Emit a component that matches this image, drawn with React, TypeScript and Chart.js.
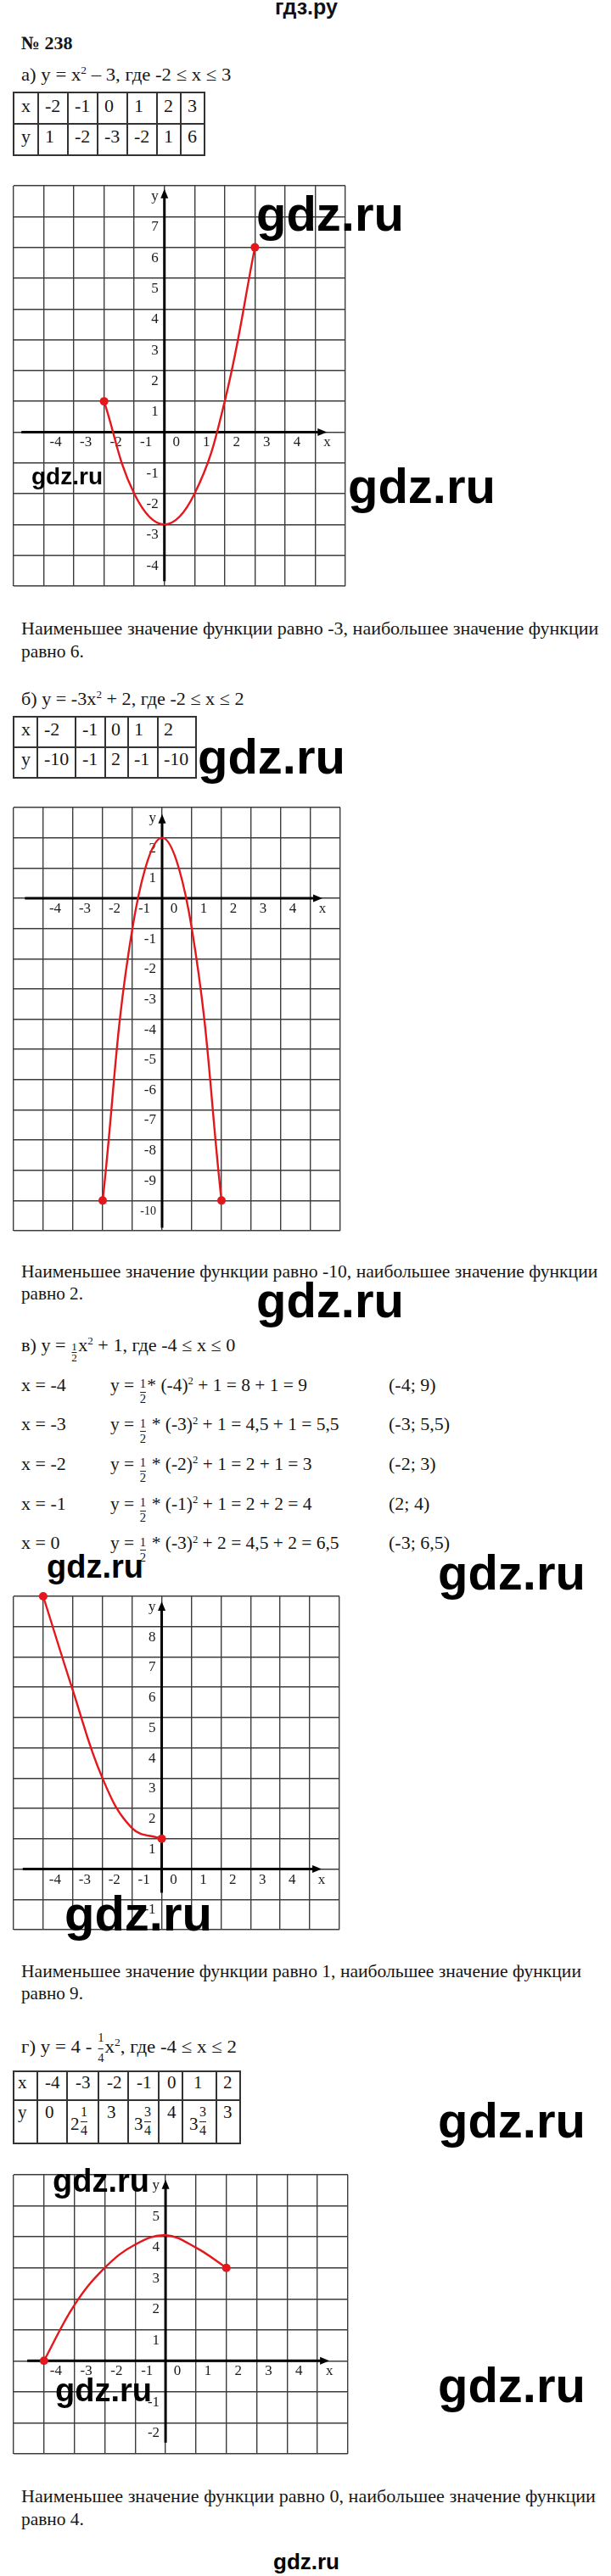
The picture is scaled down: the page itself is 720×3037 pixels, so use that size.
import React, { useEffect, useLayoutEffect, useRef } from 'react';
import { Chart, registerables } from 'chart.js';
Chart.register(...registerables);

// ---------------- data ----------------
const tableAX = ['-2', '-1', '0', '1', '2', '3'];
const tableAY = ['1', '-2', '-3', '-2', '1', '6'];
const curveAX = [-2, -1, 0, 1, 2, 3];
const curveAY = [1, -2, -3, -2, 1, 6];

const tableBX = ['-2', '-1', '0', '1', '2'];
const tableBY = ['-10', '-1', '2', '-1', '-10'];
const curveBX = [-2, -1, 0, 1, 2];
const curveBY = [-10, -1, 2, -1, -10];

const curveVX = [-4, -3, -2, -1, 0];
const curveVY = [9, 5.9, 3, 1.35, 1];

const tableGX = ['-4', '-3', '-2', '-1', '0', '1', '2'];
const tableGYInt = ['0', '2', '3', '3', '4', '3', '3'];
const tableGYNum = ['', '1', '', '3', '', '3', ''];
const tableGYDen = ['', '4', '', '4', '', '4', ''];
const curveGX = [-4, -3, -2, -1, 0, 1, 2];
const curveGY = [0, 1.8, 3, 3.75, 4.05, 3.65, 3];

const xTickVals = [-4, -3, -2, -1, 0, 1, 2, 3, 4, 5];
const xTickText = ['-4', '-3', '-2', '-1', '0', '1', '2', '3', '4', 'x'];

const yTickValsA = [8, 7, 6, 5, 4, 3, 2, 1, -1, -2, -3, -4];
const yTickTextA = ['y', '7', '6', '5', '4', '3', '2', '1', '-1', '-2', '-3', '-4'];
const yTickValsB = [3, 2, 1, -1, -2, -3, -4, -5, -6, -7, -8, -9, -10];
const yTickTextB = ['y', '2', '1', '-1', '-2', '-3', '-4', '-5', '-6', '-7', '-8', '-9', '-10'];
const yTickValsV = [9, 8, 7, 6, 5, 4, 3, 2, 1, -1];
const yTickTextV = ['y', '8', '7', '6', '5', '4', '3', '2', '1', '-1'];
const yTickValsG = [6, 5, 4, 3, 2, 1, -1, -2];
const yTickTextG = ['y', '5', '4', '3', '2', '1', '-1', '-2'];

const calcX = ['x = -4', 'x = -3', 'x = -2', 'x = -1', 'x = 0'];
const calcSep = ['*', ' *', ' *', ' *', ' *'];
const calcBase = [' (-4)', ' (-3)', ' (-2)', ' (-1)', ' (-3)'];
const calcRest = [' + 1 = 8 + 1 = 9', ' + 1 = 4,5 + 1 = 5,5', ' + 1 = 2 + 1 = 3', ' + 1 = 2 + 2 = 4', ' + 2 = 4,5 + 2 = 6,5'];
const calcPoint = ['(-4; 9)', '(-3; 5,5)', '(-2; 3)', '(2; 4)', '(-3; 6,5)'];

// ---------------- styles ----------------
const RED = '#e3171c';
const GRID = '#3d3d3d';
const SERIF = '"Liberation Serif", "Times New Roman", serif';
const SANS = '"Liberation Sans", Arial, sans-serif';
const INK = '#161616';

type GraphCfg = {
  left: number; top: number; width: number; height: number;
  xMin: number; xMax: number; yMin: number; yMax: number;
  xAxis: [number, number]; yAxis: [number, number];
  yVals: number[]; yText: string[];
  xs: number[]; ys: number[];
};

function range(a: number, b: number) {
  const r: number[] = [];
  for (let v = a; v <= b; v++) r.push(v);
  return r;
}

function decoPlugin(cfg: GraphCfg) {
  return {
    id: 'deco',
    beforeDatasetsDraw(chart: any) {
      const ctx = chart.ctx as CanvasRenderingContext2D;
      const xs = chart.scales.x;
      const ys = chart.scales.y;
      const ox = xs.getPixelForValue(0);
      const oy = ys.getPixelForValue(0);
      ctx.save();
      ctx.strokeStyle = '#000';
      ctx.fillStyle = '#000';
      ctx.lineWidth = 3;
      const x0 = xs.getPixelForValue(cfg.xAxis[0]);
      const x1 = xs.getPixelForValue(cfg.xAxis[1]);
      ctx.beginPath();
      ctx.moveTo(x0, oy);
      ctx.lineTo(x1 - 6, oy);
      ctx.stroke();
      ctx.beginPath();
      ctx.moveTo(x1, oy);
      ctx.lineTo(x1 - 11, oy - 4.5);
      ctx.lineTo(x1 - 11, oy + 4.5);
      ctx.closePath();
      ctx.fill();
      const y0 = ys.getPixelForValue(cfg.yAxis[0]);
      const y1 = ys.getPixelForValue(cfg.yAxis[1]);
      ctx.beginPath();
      ctx.moveTo(ox, y0);
      ctx.lineTo(ox, y1 + 6);
      ctx.stroke();
      ctx.beginPath();
      ctx.moveTo(ox, y1);
      ctx.lineTo(ox - 4.5, y1 + 11);
      ctx.lineTo(ox + 4.5, y1 + 11);
      ctx.closePath();
      ctx.fill();

      ctx.fillStyle = '#1a1a1a';
      ctx.textBaseline = 'alphabetic';
      ctx.font = `17px ${SERIF}`;
      ctx.textAlign = 'center';
      xTickVals.forEach((v, i) => {
        ctx.fillText(xTickText[i], xs.getPixelForValue(v) + 14, oy + 17);
      });
      ctx.textAlign = 'right';
      cfg.yVals.forEach((v, i) => {
        const t = cfg.yText[i];
        ctx.font = t.length > 2 ? `14px ${SERIF}` : `17px ${SERIF}`;
        ctx.fillText(t, ox - 7, ys.getPixelForValue(v) + 17);
      });
      ctx.restore();
    },
  };
}

function Graph({ cfg }: { cfg: GraphCfg }) {
  const ref = useRef<HTMLCanvasElement>(null);
  const PAD = 6;
  useEffect(() => {
    const last = cfg.xs.length - 1;
    const chart = new Chart(ref.current as HTMLCanvasElement, {
      type: 'scatter',
      data: {
        datasets: [
          {
            data: cfg.xs.map((x, i) => ({ x, y: cfg.ys[i] })),
            showLine: true,
            borderColor: RED,
            borderWidth: 2.4,
            tension: 0.4,
            pointRadius: cfg.xs.map((_, i) => (i === 0 || i === last ? 5 : 0)),
            pointBackgroundColor: RED,
            pointBorderWidth: 0,
            clip: false as any,
            fill: false,
          } as any,
        ],
      },
      options: {
        responsive: false,
        maintainAspectRatio: false,
        animation: false,
        events: [],
        layout: { padding: PAD },
        plugins: { legend: { display: false }, tooltip: { enabled: false } },
        scales: {
          x: {
            type: 'linear',
            min: cfg.xMin,
            max: cfg.xMax,
            afterBuildTicks: (s: any) => { s.ticks = range(cfg.xMin, cfg.xMax).map((v) => ({ value: v })); },
            ticks: { display: false },
            grid: { color: GRID, lineWidth: 1.4, drawTicks: false },
            border: { display: false },
          },
          y: {
            type: 'linear',
            min: cfg.yMin,
            max: cfg.yMax,
            afterBuildTicks: (s: any) => { s.ticks = range(cfg.yMin, cfg.yMax).map((v) => ({ value: v })); },
            ticks: { display: false },
            grid: { color: GRID, lineWidth: 1.4, drawTicks: false },
            border: { display: false },
          },
        },
      } as any,
      plugins: [decoPlugin(cfg) as any],
    });
    return () => chart.destroy();
  }, []);
  const w = cfg.width + PAD * 2;
  const h = cfg.height + PAD * 2;
  return (
    <canvas
      ref={ref}
      width={w}
      height={h}
      style={{ position: 'absolute', left: cfg.left - PAD, top: cfg.top - PAD, width: w, height: h }}
    />
  );
}

// ---------------- text helpers ----------------
function T(props: {
  x: number; b: number; size?: number; bold?: boolean; sans?: boolean; w?: number; center?: boolean; color?: string;
  children: React.ReactNode;
}) {
  const { x, b, size = 22, bold = false, sans = false, w, center = false, color = INK, children } = props;
  const ref = useRef<HTMLSpanElement>(null);
  useLayoutEffect(() => {
    if (!w || !ref.current) return;
    const nat = ref.current.offsetWidth;
    if (nat > 0) ref.current.style.transform = `scaleX(${w / nat})`;
  }, [w]);
  const k = sans ? 0.8465 : 0.8375;
  return (
    <div
      style={{
        position: 'absolute',
        left: center ? x - 360 : x,
        width: center ? 720 : undefined,
        textAlign: center ? 'center' : 'left',
        top: b - k * size,
        fontSize: size,
        lineHeight: `${size}px`,
        whiteSpace: 'nowrap',
        fontWeight: bold ? 700 : 400,
        fontFamily: sans ? SANS : SERIF,
        color,
      }}
    >
      <span ref={ref} style={{ display: 'inline-block', transformOrigin: 'left center' }}>{children}</span>
    </div>
  );
}

function Sup({ children, size = 13, raise = 7.5 }: { children: React.ReactNode; size?: number; raise?: number }) {
  return <span style={{ position: 'relative', top: -raise, fontSize: size }}>{children}</span>;
}

function Frac(props: { n: string; d: string; size: number; numBase: number; denBase: number; w: number }) {
  const { n, d, size, numBase, denBase, w } = props;
  const barTop = (denBase - 0.66 * size - numBase) / 2;
  const part: React.CSSProperties = {
    position: 'absolute', left: 0, width: '100%', textAlign: 'center', fontSize: size, lineHeight: `${size}px`,
  };
  return (
    <span style={{ display: 'inline-block', position: 'relative', width: w, height: 0, verticalAlign: 'baseline' }}>
      <span style={{ ...part, bottom: numBase - 0.1625 * size }}>{n}</span>
      <span style={{ position: 'absolute', left: '15%', width: '70%', top: barTop, height: 1, background: '#222' }} />
      <span style={{ ...part, top: denBase - 0.8375 * size }}>{d}</span>
    </span>
  );
}

function Table(props: {
  cols: number[]; rows: number[]; cells: React.ReactNode[][]; baselines: number[][]; size: number; pads: number[][];
}) {
  const { cols, rows, cells, baselines, size, pads } = props;
  const L = cols[0], R = cols[cols.length - 1], Tp = rows[0], B = rows[rows.length - 1];
  const lw = 1.5;
  const lines: React.ReactNode[] = [];
  cols.forEach((c, i) =>
    lines.push(<div key={'c' + i} style={{ position: 'absolute', left: c - lw / 2, top: Tp - lw / 2, width: lw, height: B - Tp + lw, background: '#333' }} />)
  );
  rows.forEach((r, i) =>
    lines.push(<div key={'r' + i} style={{ position: 'absolute', left: L - lw / 2, top: r - lw / 2, width: R - L + lw, height: lw, background: '#333' }} />)
  );
  const texts: React.ReactNode[] = [];
  cells.forEach((row, ri) =>
    row.forEach((cell, ci) =>
      texts.push(
        <T key={`t${ri}-${ci}`} x={cols[ci] + pads[ri][ci]} b={baselines[ri][ci]} size={size}>
          {cell}
        </T>
      )
    )
  );
  return (
    <>
      {lines}
      {texts}
    </>
  );
}

// ---------------- graph configs ----------------
const graphA: GraphCfg = {
  left: 16, top: 219, width: 391, height: 472, xMin: -5, xMax: 6, yMin: -5, yMax: 8,
  xAxis: [-4.74, 5.39], yAxis: [-4.84, 7.9], yVals: yTickValsA, yText: yTickTextA, xs: curveAX, ys: curveAY,
};
const graphB: GraphCfg = {
  left: 16, top: 952, width: 385, height: 499, xMin: -5, xMax: 6, yMin: -11, yMax: 3,
  xAxis: [-4.62, 5.4], yAxis: [-10.9, 2.78], yVals: yTickValsB, yText: yTickTextB, xs: curveBX, ys: curveBY,
};
const graphV: GraphCfg = {
  left: 16, top: 1882, width: 384, height: 393, xMin: -5, xMax: 6, yMin: -2, yMax: 9,
  xAxis: [-4.69, 5.4], yAxis: [-0.78, 8.83], yVals: yTickValsV, yText: yTickTextV, xs: curveVX, ys: curveVY,
};
const graphG: GraphCfg = {
  left: 16, top: 2564, width: 394, height: 329, xMin: -5, xMax: 6, yMin: -3, yMax: 6,
  xAxis: [-4.55, 5.39], yAxis: [-2.64, 5.84], yVals: yTickValsG, yText: yTickTextG, xs: curveGX, ys: curveGY,
};

function Wm({ x, b, size }: { x: number; b: number; size: number }) {
  return (
    <T x={x} b={b} size={size} bold sans color="#000">
      gdz.ru
    </T>
  );
}

const fill = (n: number, v: number) => Array.from({ length: n }, () => v);

export default function App() {
  const rowFrac = <Frac n="1" d="2" size={15} numBase={3} denBase={15} w={10} />;
  const gCells: React.ReactNode[] = tableGYInt.map((v, i) =>
    tableGYNum[i] ? (
      <>
        {v}
        <Frac n={tableGYNum[i]} d={tableGYDen[i]} size={16} numBase={16} denBase={6} w={11} />
      </>
    ) : (
      v
    )
  );
  const gRow2Base = tableGYNum.map((n) => (n ? 2512 : 2498));
  return (
    <div style={{ position: 'absolute', left: 0, top: 0, width: 720, height: 3037, background: '#fff', overflow: 'hidden' }}>
      <T x={361} b={17} size={25} bold sans center color="#111">гдз.ру</T>
      <T x={25} b={58} size={22} bold>№ 238</T>
      <T x={25} b={95} size={22} w={247}>
        а) y = x<Sup>2</Sup> – 3, где -2 ≤ x ≤ 3
      </T>
      <Table
        cols={[16, 45, 80, 115, 150, 185, 213, 241]}
        rows={[109, 146, 183]}
        cells={[['x', ...tableAX], ['y', ...tableAY]]}
        baselines={[fill(7, 132), fill(7, 168)]}
        size={22}
        pads={[[9, 8, 8, 8, 8, 8, 8], [9, 8, 8, 8, 8, 8, 8]]}
      />
      <Graph cfg={graphA} />

      <T x={25} b={748} size={22} w={680}>Наименьшее значение функции равно -3, наибольшее значение функции</T>
      <T x={25} b={775} size={22} w={74}>равно 6.</T>

      <T x={25} b={831} size={22} w={263}>
        б) y = -3x<Sup>2</Sup> + 2, где -2 ≤ x ≤ 2
      </T>
      <Table
        cols={[16, 44, 89, 124, 151, 186, 231]}
        rows={[845, 881, 917]}
        cells={[['x', ...tableBX], ['y', ...tableBY]]}
        baselines={[fill(6, 867), fill(6, 902)]}
        size={22}
        pads={[[9, 8, 8, 7, 7, 7], [9, 8, 8, 7, 7, 7]]}
      />
      <Graph cfg={graphB} />

      <T x={25} b={1506} size={22} w={679}>Наименьшее значение функции равно -10, наибольшее значение функции</T>
      <T x={25} b={1532} size={22} w={73}>равно 2.</T>

      <T x={25} b={1593} size={22} w={252}>
        в) y = <Frac n="1" d="2" size={13} numBase={0.5} denBase={12} w={9} />x<Sup>2</Sup> + 1, где -4 ≤ x ≤ 0
      </T>
      {calcX.map((t, i) => (
        <T key={'cx' + i} x={25} b={1640 + i * 46.7} size={22}>{t}</T>
      ))}
      {calcRest.map((t, i) => (
        <T key={'cy' + i} x={130} b={1640 + i * 46.7} size={22} w={[232, 270, 238, 238, 270][i]}>
          y = {rowFrac}{calcSep[i]}{calcBase[i]}<Sup>2</Sup>{t}
        </T>
      ))}
      {calcPoint.map((t, i) => (
        <T key={'cp' + i} x={458} b={1640 + i * 46.7} size={22}>{t}</T>
      ))}
      <Graph cfg={graphV} />

      <T x={25} b={2331} size={22} w={660}>Наименьшее значение функции равно 1, наибольшее значение функции</T>
      <T x={25} b={2357} size={22} w={73}>равно 9.</T>

      <T x={25} b={2420} size={22} w={254}>
        г) y = 4 - <Frac n="1" d="4" size={14} numBase={12} denBase={12} w={9} />x<Sup>2</Sup>, где -4 ≤ x ≤ 2
      </T>
      <Table
        cols={[16, 44, 79, 116, 151, 187, 215, 255, 283]}
        rows={[2442, 2476, 2527]}
        cells={[['x', ...tableGX], ['y', ...gCells]]}
        baselines={[fill(8, 2463), [2498, ...gRow2Base]]}
        size={21}
        pads={[[5, 9, 10, 10, 10, 10, 13, 8], [5, 9, 4, 10, 7, 10, 8, 8]]}
      />
      <Graph cfg={graphG} />

      <T x={25} b={2950} size={22} w={677}>Наименьшее значение функции равно 0, наибольшее значение функции</T>
      <T x={25} b={2977} size={22} w={74}>равно 4.</T>

      <Wm x={302} b={272} size={58} />
      <Wm x={37} b={572} size={28} />
      <Wm x={410} b={593} size={58} />
      <Wm x={233} b={912} size={58} />
      <Wm x={302} b={1553} size={58} />
      <Wm x={55} b={1860} size={38} />
      <Wm x={516} b={1874} size={58} />
      <Wm x={76} b={2276} size={58} />
      <Wm x={516} b={2520} size={58} />
      <Wm x={62} b={2584} size={38} />
      <Wm x={65} b={2831} size={38} />
      <Wm x={516} b={2832} size={58} />
      <T x={361} b={3029} size={26} bold sans center color="#000">gdz.ru</T>
    </div>
  );
}
